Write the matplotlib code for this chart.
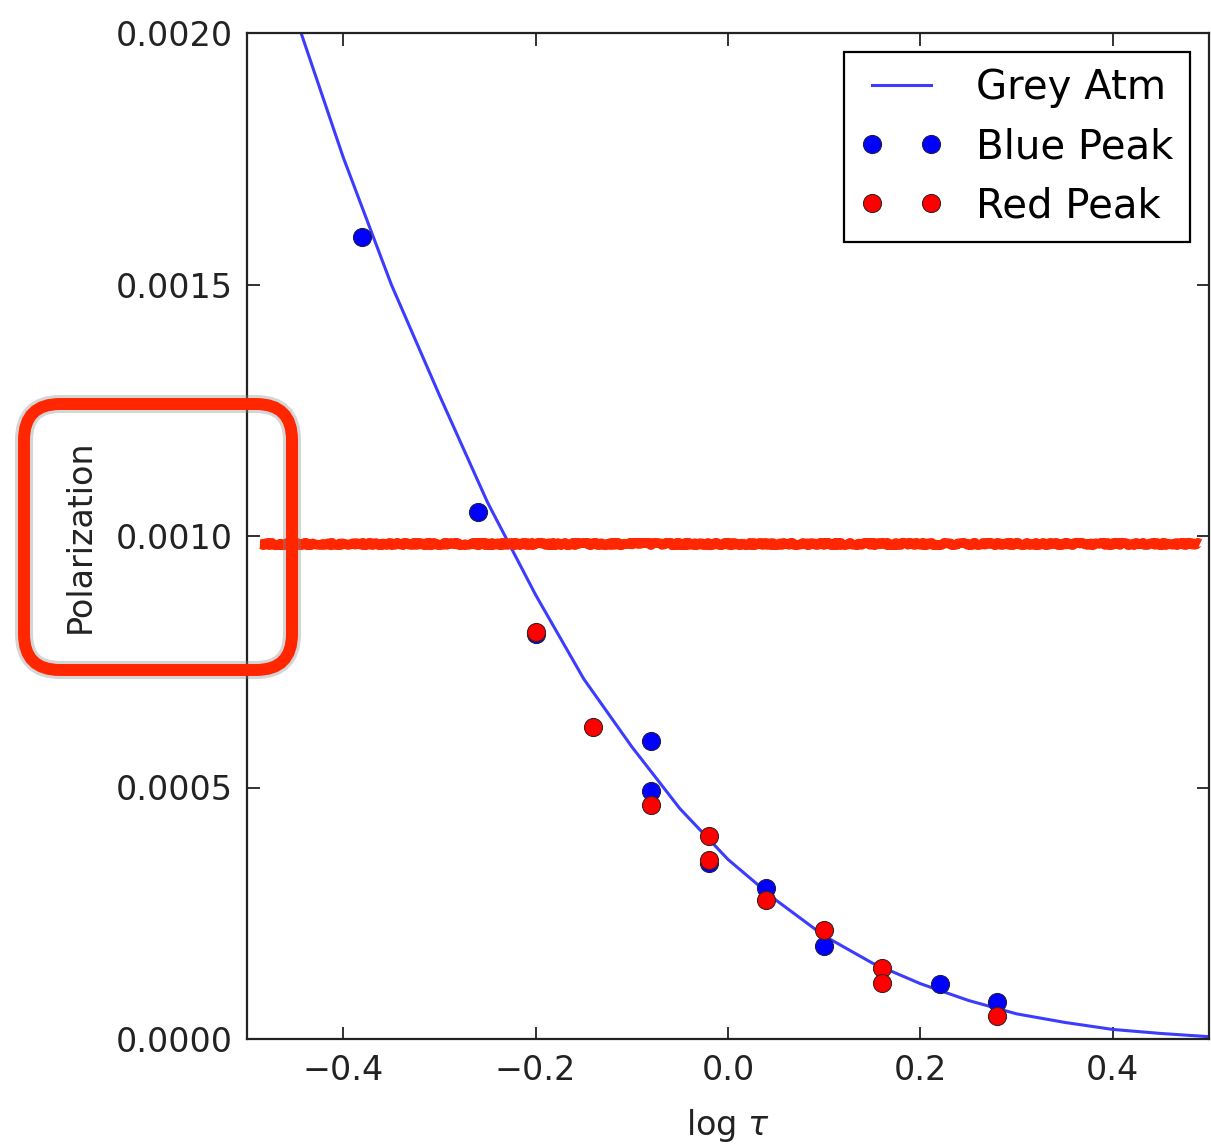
import matplotlib
matplotlib.use("Agg")
import matplotlib.pyplot as plt
from matplotlib.patches import FancyBboxPatch
import matplotlib.patheffects as pe

# ---- data ----
curve_x = [-0.45, -0.40, -0.35, -0.30, -0.25, -0.20, -0.15, -0.10, -0.05, 0.00,
           0.05, 0.10, 0.15, 0.20, 0.25, 0.30, 0.35, 0.40, 0.45, 0.50]
curve_y = [0.002035, 0.001753, 0.00150, 0.00128, 0.001067, 0.000883, 0.000716,
           0.000581, 0.000458, 0.000357, 0.000276, 0.000205, 0.000151, 0.000110,
           0.0000766, 0.000050, 0.000033, 0.000019, 0.000011, 0.0000046]

blue_x = [-0.38, -0.26, -0.20, -0.08, -0.08, -0.02, 0.04, 0.10, 0.22, 0.28]
blue_y = [0.001594, 0.001048, 0.000805, 0.000592, 0.000493, 0.000350,
          0.000300, 0.000185, 0.000109, 0.000073]

red_x = [-0.20, -0.14, -0.08, -0.02, -0.02, 0.04, 0.10, 0.16, 0.16, 0.28]
red_y = [0.000810, 0.000620, 0.000465, 0.000404, 0.000355, 0.000276,
         0.000217, 0.000142, 0.000111, 0.0000463]

x_ticks = [-0.4, -0.2, 0.0, 0.2, 0.4]
y_ticks = [0.0, 0.0005, 0.0010, 0.0015, 0.0020]
y_ticklabels = ["0.0000", "0.0005", "0.0010", "0.0015", "0.0020"]

# annotation (hand-drawn red mark)
mark_y = 0.000984
mark_x = [-0.487, 0.491]

W, H, DPI = 1211, 1146, 100
fig = plt.figure(figsize=(W / DPI, H / DPI), dpi=DPI)
ax = fig.add_axes([247 / W, 1 - 1039 / H, (1209 - 247) / W, (1039 - 33) / H])

ax.plot(curve_x, curve_y, color="#3c3cff", lw=2.2, label="Grey Atm", zorder=2)
ax.plot(blue_x, blue_y, linestyle="none", marker="o", ms=13, mfc="#0000ff",
        mec="#202040", mew=0.8, label="Blue Peak", zorder=3)
ax.plot(red_x, red_y, linestyle="none", marker="o", ms=13, mfc="#ff0000",
        mec="#402020", mew=0.8, label="Red Peak", zorder=4)

ax.set_xlim(-0.5, 0.5)
ax.set_ylim(0, 0.002)
ax.set_xticks(x_ticks)
ax.set_yticks(y_ticks)
ax.set_yticklabels(y_ticklabels)
ax.tick_params(direction="in", length=9, width=1.3, labelsize=24, top=True,
               right=True, colors="#222222")
ax.tick_params(axis="x", pad=11)
ax.tick_params(axis="y", pad=10)
for s in ax.spines.values():
    s.set_linewidth(1.6)
    s.set_color("#222222")

ax.set_xlabel(r"log $\tau$", fontsize=24, labelpad=14, color="#222222")
ax.set_ylabel("Polarization", fontsize=24, labelpad=14, color="#222222")

leg = ax.legend(loc="upper right", numpoints=2, fontsize=29, fancybox=False,
                edgecolor="black", framealpha=1, handlelength=2.06,
                handletextpad=0.82, labelspacing=0.47, borderaxespad=0.48,
                borderpad=0.4)
leg.get_frame().set_linewidth(1.6)

# red annotations
red_mark = "#ff2600"
ln, = ax.plot(mark_x, [mark_y, mark_y], color=red_mark, lw=7, clip_on=False,
              zorder=6, solid_capstyle="butt")
ln.set_sketch_params(scale=1.2, length=6, randomness=20)

box = FancyBboxPatch((24, 1146 - 670), 268, 266,
                     boxstyle="round,pad=0,rounding_size=36",
                     transform=None, fill=False, edgecolor=red_mark,
                     linewidth=8.6, zorder=10,
                     path_effects=[pe.Stroke(linewidth=13, foreground="#888888",
                                             alpha=0.35),
                                   pe.Normal()])
fig.patches.append(box)

fig.savefig("out.png", dpi=DPI)
